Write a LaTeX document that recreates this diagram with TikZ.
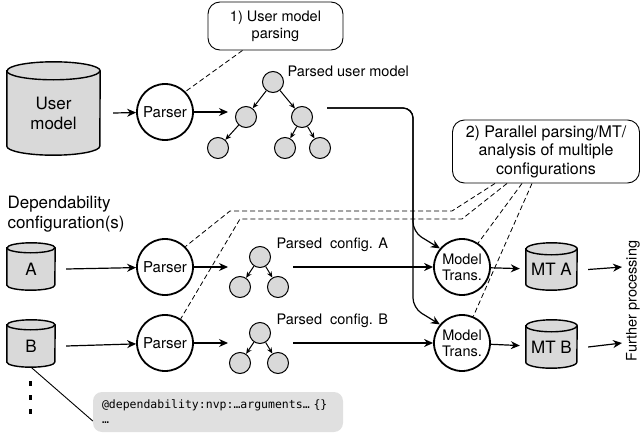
\documentclass[tikz,border=0pt]{standalone}
\usepackage{fontspec}
\setmainfont{TeX Gyre Heros}
\setmonofont{DejaVu Sans Mono}
\usetikzlibrary{arrows.meta,backgrounds}
\newcommand{\fsz}[2]{\fontsize{#1}{#2}\selectfont}
% cylinder round a node: name, half width, cap radius
\newcommand{\dbbody}[3]{%
  \draw[dbline] (#1.north west) -- ([yshift=#3pt]#1.south west)
    arc[start angle=180,end angle=360,x radius=#2pt,y radius=#3pt]
    -- (#1.north east)
    arc[start angle=0,end angle=180,x radius=#2pt,y radius=#3pt] -- cycle;
  \draw[dbline,fill=none] (#1.north west)
    arc[start angle=180,end angle=360,x radius=#2pt,y radius=#3pt];}
\begin{document}
\begin{tikzpicture}[x=1pt,y=-1pt,
    db/.style={inner sep=0pt,align=center,font=\fsz{17}{20}},
    dbline/.style={draw,line width=1.4pt,fill=black!15},
    proc/.style={circle,draw,line width=1.8pt,minimum size=56pt,inner sep=0pt,align=center,font=\fsz{15}{17}},
    leaf/.style={circle,draw,fill=black!15,minimum size=21pt,inner sep=0pt,line width=1pt},
    note/.style={draw,rounded corners=12pt,align=center,line width=0.9pt},
    arr/.style={-{Stealth[length=9pt,width=8pt]},line width=1.2pt},
    tarr/.style={-{Stealth[length=6pt,width=5pt]},line width=1pt},
    link/.style={line width=0.8pt,dash pattern=on 5pt off 3pt}]
    \useasboundingbox (0,0) rectangle (641,434);
    %% user model
    \node[db,minimum width=93pt,minimum height=84pt] (um) at (53.5,113) {User\\model};
    \node[proc] (p0) at (165,112) {Parser};
    \draw[arr] ([xshift=13pt]um.east) -- (p0);
    \coordinate (t0) at (228,112);
    \draw[arr] (p0) -- (t0);
    %% parsed user model
    \node[leaf] (u0) at (273,82) {};
    \node[leaf] (u1) at (246,117) {};
    \node[leaf] (u2) at (302,117) {};
    \node[leaf] (u3) at (218,148) {};
    \node[leaf] (u4) at (285,148) {};
    \node[leaf] (u5) at (320,148) {};
    \draw[tarr] (u0) -- (u1);
    \draw[tarr] (u0) -- (u2);
    \draw[tarr] (u1) -- (u3);
    \draw[tarr] (u2) -- (u4);
    \draw[tarr] (u2) -- (u5);
    \node[anchor=west,font=\fsz{14.5}{17}] (lum) at (284,71) {Parsed user model};
    %% note 1
    \node[note,minimum width=135pt,minimum height=48pt,font=\fsz{14.5}{17}] (n1) at (275.5,26) {1) User model\\parsing};
    \draw[link] ([xshift=-33pt]n1.south) -- (p0.45);
    %% configurations
    \node[anchor=north west,align=left,font=\fsz{17}{20}] (dep) at (4,193) {Dependability\\configuration(s)};
    \node[db,minimum width=48pt,minimum height=42pt] (dba) at (31,269) {A};
    \node[db,minimum width=48pt,minimum height=42pt] (dbb) at (31,346) {B};
    \node[proc] (pa) at (165,267) {Parser};
    \node[proc] (pb) at (165,343) {Parser};
    \draw[arr] ([xshift=11pt]dba.east) -- (pa);
    \draw[arr] ([xshift=11pt]dbb.east) -- (pb);
    \coordinate (sa) at (228,267);
    \coordinate (sb) at (228,343);
    \draw[arr] (pa) -- (sa);
    \draw[arr] (pb) -- (sb);
    %% parsed configs
    \node[leaf] (a0) at (260,257) {};
    \node[leaf] (a1) at (240,287) {};
    \node[leaf] (a2) at (278,287) {};
    \node[leaf] (b0) at (260,333) {};
    \node[leaf] (b1) at (240,363) {};
    \node[leaf] (b2) at (278,363) {};
    \draw[tarr] (a0) -- (a1);
    \draw[tarr] (a0) -- (a2);
    \draw[tarr] (b0) -- (b1);
    \draw[tarr] (b0) -- (b2);
    \node[anchor=west,font=\fsz{14.5}{17}] (la) at (273,245) {Parsed~~config. A};
    \node[anchor=west,font=\fsz{14.5}{17}] (lb) at (273,321) {Parsed~~config. B};
    %% model transformation
    \node[proc,font=\fsz{14.5}{16}] (ma) at (462,267) {Model\\Trans.};
    \node[proc,font=\fsz{14.5}{16}] (mb) at (462,343) {Model\\Trans.};
    \coordinate (ta) at (293,267);
    \coordinate (tb) at (293,343);
    \draw[arr] (ta) -- (ma);
    \draw[arr] (tb) -- (mb);
    \coordinate (tu) at (327,108);
    \coordinate (ka) at (413,232);
    \coordinate (kb) at (413,308);
    \draw[arr,rounded corners=10pt] (tu) -| (ka) -- (ma.140);
    \draw[arr,rounded corners=10pt] (tu) -| (kb) -- (mb.140);
    %% results
    \node[db,minimum width=51pt,minimum height=41pt] (ca) at (551.5,269.5) {MT A};
    \node[db,minimum width=51pt,minimum height=42pt] (cb) at (551.5,347) {MT B};
    \draw[arr,shorten >=6pt] (ma) -- (ca);
    \draw[arr,shorten >=6pt] (mb) -- (cb);
    \coordinate (fa) at (622,267);
    \coordinate (fb) at (622,343);
    \draw[arr] ([xshift=11pt]ca.east) -- (fa);
    \draw[arr] ([xshift=11pt]cb.east) -- (fb);
    \node[rotate=90,font=\fsz{14.5}{17}] (fp) at (633,301) {Further processing};
    %% note 2
    \node[note,minimum width=187pt,minimum height=63pt,font=\fsz{16}{18.5}] (n2) at (546,151.5) {2) Parallel parsing/MT/\\analysis of multiple\\configurations};
    \draw[link] ([xshift=-51pt]n2.south) -- (452,211) -- (230,211) -- (pa.45);
    \draw[link] ([xshift=-39pt]n2.south) -- (462,219) -- (240,219) -- (pb.57);
    \draw[link] ([xshift=-24pt]n2.south) -- (ma.56);
    \draw[link] ([xshift=-14pt]n2.south) -- (mb.67);
    %% more configs
    \foreach \y in {383,397,411} \fill (28.5,\y-2.5) rectangle ++(3,5);
    \node[fill=black!12,rounded corners=9pt,minimum width=250pt,minimum height=40pt,text width=232pt,align=left,font=\ttfamily\fsz{11.5}{15}] (code) at (218,412) {@dependability:nvp:…arguments… \{\}\\…};
    \draw[line width=0.9pt] (dbb.south) -- ([yshift=-9pt]code.west);
    %% cylinders
    \begin{scope}[on background layer]
      \dbbody{um}{46.5}{9}
      \dbbody{dba}{24}{5}
      \dbbody{dbb}{24}{5}
      \dbbody{ca}{25.5}{6}
      \dbbody{cb}{25.5}{6}
    \end{scope}
\end{tikzpicture}
\end{document}
